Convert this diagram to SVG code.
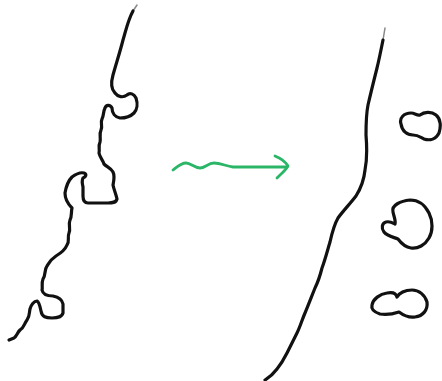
<svg xmlns="http://www.w3.org/2000/svg" width="442" height="381" viewBox="0 0 442 381">
<style>
.ink{fill:none;stroke:#111;stroke-width:3.2;stroke-linecap:round;stroke-linejoin:round}
.faint{fill:none;stroke:#888;stroke-width:1.5;stroke-linecap:round}
.green{fill:none;stroke:#2ab567;stroke-width:2.8;stroke-linecap:round;stroke-linejoin:round}
</style>
<rect width="442" height="381" fill="#fff"/>
<g id="left-coast">
<path class="faint" d="M137,5 L133,11"/>
<path class="ink" d="M133,11 C128,20 126,30 123,40 C120,52 116,64 113,75 C111,82 111,89 115,93 C118,97 123,98 127,95 C130,92 134,94 136,98 C138,104 137,110 134,113 C130,117 125,118 120,118 C115,117 112,113 112,108 C110,104 106,105 105,108 C103,112 104,115 102,119 C100,123 103,126 101,130 C99,134 101,138 100,142 C98,146 100,150 99,153 C100,158 103,160 104,164 C107,167 111,168 113,172 C115,176 114,180 113,185 C114,190 116,194 117,199 C116,203 112,203 108,203 L88,203 C84,203 83,200 83,196 L83,187 C82,183 82,180 83,178 C86,177 87,174 84,173 C80,172 76,174 72,177 C68,181 66,187 65,193 C65,199 68,204 72,208 C71,212 72,216 70,220 C68,225 71,229 69,233 C67,238 70,241 67,245 C65,250 61,253 56,256 C50,260 49,263 47,266 C44,270 46,275 43,279 C41,284 43,287 42,290 C43,295 47,296 53,296 C58,297 62,299 63,304 L63,313 C62,317 58,318 52,318 C46,318 42,317 41,311 C40,306 39,302 37,301 C34,301 31,305 30,309 C29,313 30,316 27,320 C24,324 24,328 20,330 C17,333 17,336 14,338 L9,340"/>
</g>
<g id="right-coast">
<path class="faint" d="M385,28 L383,40"/>
<path class="ink" d="M383,40 C381,50 379,60 377,68 C374,80 371,92 368,105 C366,115 366,125 366,135 C367,147 367,160 365,170 C364,180 361,188 356,196 C349,205 343,211 338,218 C334,225 332,233 330,242 C327,252 325,260 322,268 C320,276 318,282 315,288 C311,298 308,306 305,313 C302,320 300,327 297,333 C293,341 290,347 287,353 C284,359 281,364 277,369 C274,373 270,377 265,380"/>
</g>
<g id="island-1">
<path class="ink" d="M401,124 C399,118 404,113 411,113 C415,113 417,116 420,115 C424,112 431,111 436,115 C441,119 441,127 439,133 C436,139 430,141 424,139 C420,137 418,135 413,135 C407,135 402,131 401,124 Z"/>
</g>
<g id="island-2">
<path class="ink" d="M393,212 C391,205 401,201 410,200 C418,200 425,205 429,213 C433,221 433,231 429,238 C425,245 418,249 411,248 C405,247 401,243 398,239 C393,237 387,236 384,232 C381,228 382,223 386,222 C390,221 393,223 395,224 C396,221 394,217 393,212 Z"/>
</g>
<g id="island-3">
<path class="ink" d="M372,305 C373,299 380,294 387,293 C392,292 396,293 397,297 C399,293 405,290 412,290 C419,290 425,295 427,302 C428,310 423,316 415,317 C408,318 403,315 399,312 C393,314 386,315 380,314 C374,312 371,309 372,305 Z"/>
</g>
<g id="connectors">
<path class="green" d="M173,170 C177,167 181,163 186,163 C191,163 194,168 200,168 C205,168 208,163 214,163 C220,163 226,166 233,167 L250,167 L287,167"/>
<path class="green" d="M275,156 C280,158 285,161 288,166 C285,171 281,174 277,178"/>
</g>
</svg>
